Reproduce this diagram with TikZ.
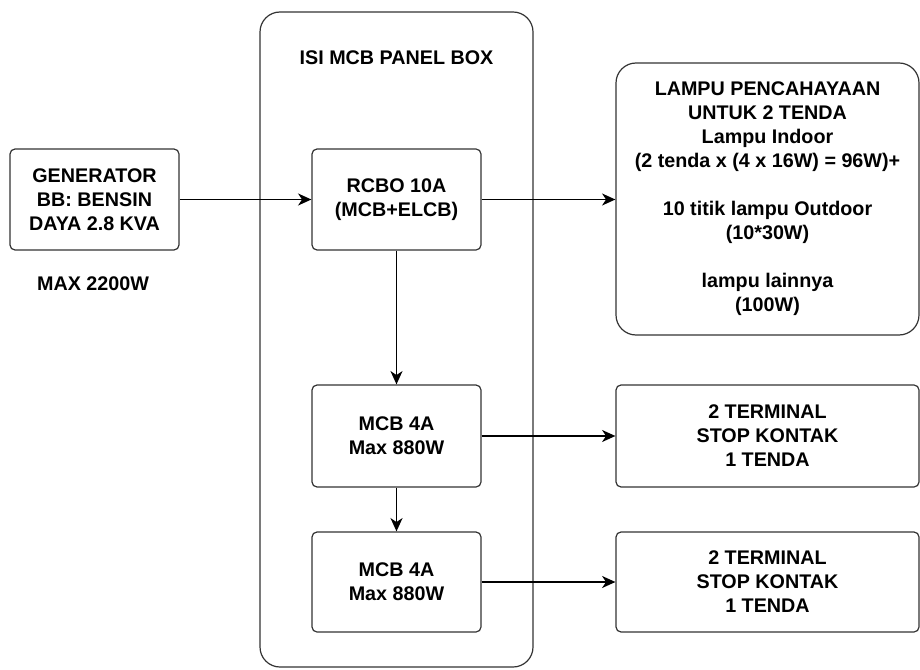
\documentclass[tikz,border=0pt]{standalone}
\usepackage{fontspec}
\setmainfont{Liberation Sans}
\usetikzlibrary{arrows.meta}
\definecolor{edge}{HTML}{333333}
\tikzset{
  box/.style={draw=edge, line width=0.9pt, rounded corners=3.75pt, inner sep=0pt, align=center,
    font=\fontsize{14.8pt}{18pt}\selectfont\bfseries},
  bigbox/.style={box, rounded corners=15pt},
  lbl/.style={inner sep=0pt, align=center, font=\fontsize{14.8pt}{18pt}\selectfont\bfseries},
  conn/.style={line width=1.4pt, -{Stealth[length=10pt,width=9pt,inset=3pt]}}
}
\begin{document}
\begin{tikzpicture}[x=0.75pt,y=-0.75pt]
\useasboundingbox (0,0) rectangle (920,670);
% panel
\node[bigbox, minimum width=204.75pt, minimum height=491.25pt] (panel) at (396.5,339.5) {};
\node[lbl] (title) at (396.5,58) {ISI MCB PANEL BOX};
% generator
\node[box, minimum width=126.75pt, minimum height=75.75pt] (gen) at (94.5,199.5)
  {GENERATOR\\BB: BENSIN\\DAYA 2.8 KVA};
\node[lbl] (max) at (93,284) {MAX 2200W};
% panel contents
\node[box, minimum width=126.75pt, minimum height=75.75pt] (rcbo) at (396.5,199.5)
  {RCBO 10A\\(MCB+ELCB)};
\node[box, minimum width=126.75pt, minimum height=76.5pt] (mcba) at (396.5,436)
  {MCB 4A\\Max 880W};
\node[box, minimum width=126.75pt, minimum height=75pt] (mcbb) at (396.5,582)
  {MCB 4A\\Max 880W};
% right side
\node[bigbox, minimum width=227.25pt, minimum height=204pt] (lamp) at (767.5,199)
  {LAMPU PENCAHAYAAN\\UNTUK 2 TENDA\\Lampu Indoor\\(2 tenda x (4 x 16W) = 96W)+\\[18pt]10 titik lampu Outdoor\\(10*30W)\\[18pt]lampu lainnya\\(100W)};
\node[box, minimum width=227.25pt, minimum height=76.5pt] (terma) at (767.5,436)
  {2 TERMINAL\\STOP KONTAK\\1 TENDA};
\node[box, minimum width=227.25pt, minimum height=75pt] (termb) at (767.5,582)
  {2 TERMINAL\\STOP KONTAK\\1 TENDA};
% connectors
\draw[conn] (gen.east) -- (rcbo.west);
\draw[conn] (rcbo.east) -- (rcbo.east -| lamp.west);
\draw[conn] (rcbo.south) -- (mcba.north);
\draw[conn] (mcba.south) -- (mcbb.north);
\draw[conn] (mcba.east) -- (terma.west);
\draw[conn] (mcbb.east) -- (termb.west);
\end{tikzpicture}
\end{document}
